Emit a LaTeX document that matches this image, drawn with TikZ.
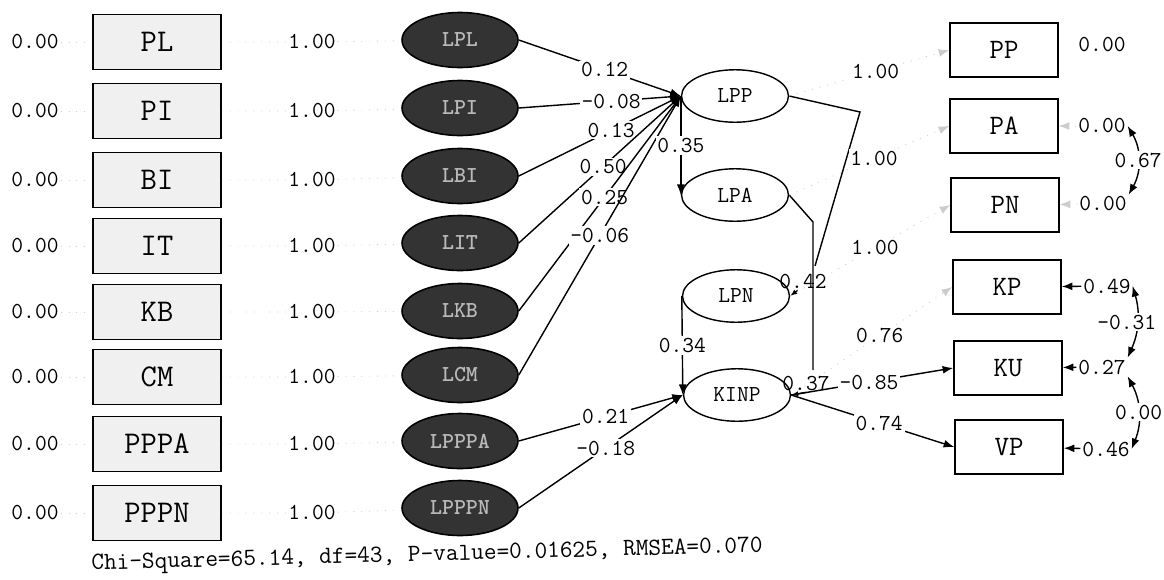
\documentclass[tikz,border=0pt]{standalone}
\usepackage{fontspec}
\usetikzlibrary{arrows.meta, shapes.geometric}

\newcommand{\fsz}[1]{\fontsize{#1}{#1}\selectfont}

\begin{document}
\begin{tikzpicture}[
    x=0.02cm, y=-0.02cm,
    every node/.style={font=\ttfamily},
    >={Latex[length=6pt,width=4.5pt]},
    obsleft/.style={draw, line width=0.9pt, fill=gray!12, minimum width=2.56cm, minimum height=1.1cm, inner sep=0pt, font=\ttfamily\fsz{18}},
    obsright/.style={draw, line width=0.9pt, minimum width=2.16cm, minimum height=1.08cm, inner sep=0pt, font=\ttfamily\fsz{16}},
    darklat/.style={ellipse, draw, line width=0.9pt, fill=black!80, text=gray!55, minimum width=2.32cm, minimum height=1.1cm, inner sep=0pt, font=\ttfamily\bfseries\fsz{13}},
    lat/.style={ellipse, draw, line width=0.8pt, minimum width=2.14cm, minimum height=1.05cm, inner sep=0pt, font=\ttfamily\fsz{13}},
    val/.style={inner sep=1pt, font=\ttfamily\fsz{13}},
    coef/.style={val, fill=white, text=black},
    pline/.style={line width=0.8pt},
    faded/.style={gray!40, line width=0.5pt, loosely dotted},
    small/.style={-{Latex[length=4pt,width=3pt]}},
]
\useasboundingbox (0,0) rectangle (1164,579);

% === Left indicators, fixed errors and their latent variables ===
\foreach \nm/\y/\ey in {PL/42/40, PI/111/108, BI/180/176, IT/246/243,
                        KB/312/311, CM/377/375, PPPA/444/441, PPPN/513/508}{
  \node[obsleft] (\nm) at (157,\y) {\nm};
  \node[val] (e\nm) at (35,\y) {0.00};
  \node[val] (w\nm) at (312,\y) {1.00};
  \node[darklat] (L\nm) at (460,\ey) {L\nm};
  \draw[faded] (e\nm) -- (\nm);
  \draw[faded] (\nm) -- (w\nm) (w\nm) -- (L\nm);
}

% === Endogenous latent variables ===
\node[lat] (LPP) at (735,96) {LPP};
\node[lat] (LPA) at (735,195) {LPA};
\node[lat] (LPN) at (736,296) {LPN};
\node[lat] (KINP) at (737,395) {KINP};

% === Right indicators ===
\node[obsright] (PP) at (1004,50) {PP};
\node[obsright] (PA) at (1004,126) {PA};
\node[obsright] (PN) at (1005,205) {PN};
\node[obsright] (KP) at (1007,287) {KP};
\node[obsright] (KU) at (1008,368) {KU};
\node[obsright] (VP) at (1009,447) {VP};

% error values
\node[val] (ePP) at (1102,45) {0.00};
\node[val] (ePA) at (1102,126) {0.00};
\node[val] (ePN) at (1103,204) {0.00};
\node[val] (eKP) at (1107,286) {0.49};
\node[val] (eKU) at (1102,367) {0.27};
\node[val] (eVP) at (1106,449) {0.46};
\node[val] (zLPN) at (803,281) {0.42};
\node[val] (zKINP) at (806,383) {0.37};

% === Paths into LPP and KINP ===
\foreach \src/\c/\p in {LPL/0.12/0.53, LPI/-0.08/0.57, LBI/0.13/0.57,
                        LIT/0.50/0.52, LKB/0.25/0.53, LCM/-0.06/0.50}
  \draw[pline,->] (\src.east) -- node[coef,pos=\p]{\c} (LPP.west);
\draw[pline,->] (LPPPA.east) -- node[coef,pos=0.53]{0.21} (KINP.west);
\draw[pline,->] (LPPPN.east) -- node[coef,pos=0.53]{-0.18} (KINP.west);
\draw[pline,->] (LPP.west) -- node[coef]{0.35} (LPA.west);
\draw[pline,->] (LPN.west) -- node[coef]{0.34} (KINP.west);

% === Broken links on the right of LPP and LPA ===
\coordinate (kneeP) at (860,112);
\coordinate (tipP) at (815,266);
\coordinate (kneeA) at (813,222);
\coordinate (tipA) at (813,370);
\draw[pline] (LPP.east) -- (kneeP) -- (tipP);
\draw[pline] (LPA.east) -- (kneeA) -- (tipA);
\draw[pline,small] (zLPN.-120) -- (LPN.east);
\draw[pline,small] (zKINP.south) -- (KINP.east);

% === Loadings to right indicators ===
\draw[faded,->] (LPP.east) -- node[coef,pos=0.54]{1.00} (PP.west);
\draw[faded,->] (LPA.east) -- node[coef,pos=0.53]{1.00} (PA.west);
\draw[faded,->] (LPN.east) -- node[coef,pos=0.53]{1.00} (PN.west);
\draw[faded,->] (KINP.east) -- node[coef,pos=0.55]{0.76} (KP.west);
\draw[pline,->] (KINP.east) -- node[coef,pos=0.48]{-0.85} (KU.west);
\draw[pline,->] (KINP.east) -- node[coef,pos=0.54]{0.74} (VP.west);

% error arrows and covariances
\draw[faded,->] (ePA) -- (PA);
\draw[faded,->] (ePN) -- (PN);
\draw[pline,->] (eKP) -- (KP);
\draw[pline,->] (eKU) -- (KU);
\draw[pline,->] (eVP) -- (VP);
\draw[pline,<->] (ePA.east) to[bend left=30] node[coef]{0.67} (ePN.north east);
\draw[pline,<->] (eKP.east) to[bend left=20] node[coef,xshift=-6pt]{-0.31} (eKU.north east);
\draw[pline,<->] (eKU.south east) to[bend left=25] node[coef]{0.00} (eVP.east);

% === Fit statistics ===
\node[val, font=\ttfamily\fsz{14}, rotate=1.5] (fit) at (427,556)
  {Chi-Square=65.14, df=43, P-value=0.01625, RMSEA=0.070};
\end{tikzpicture}
\end{document}
